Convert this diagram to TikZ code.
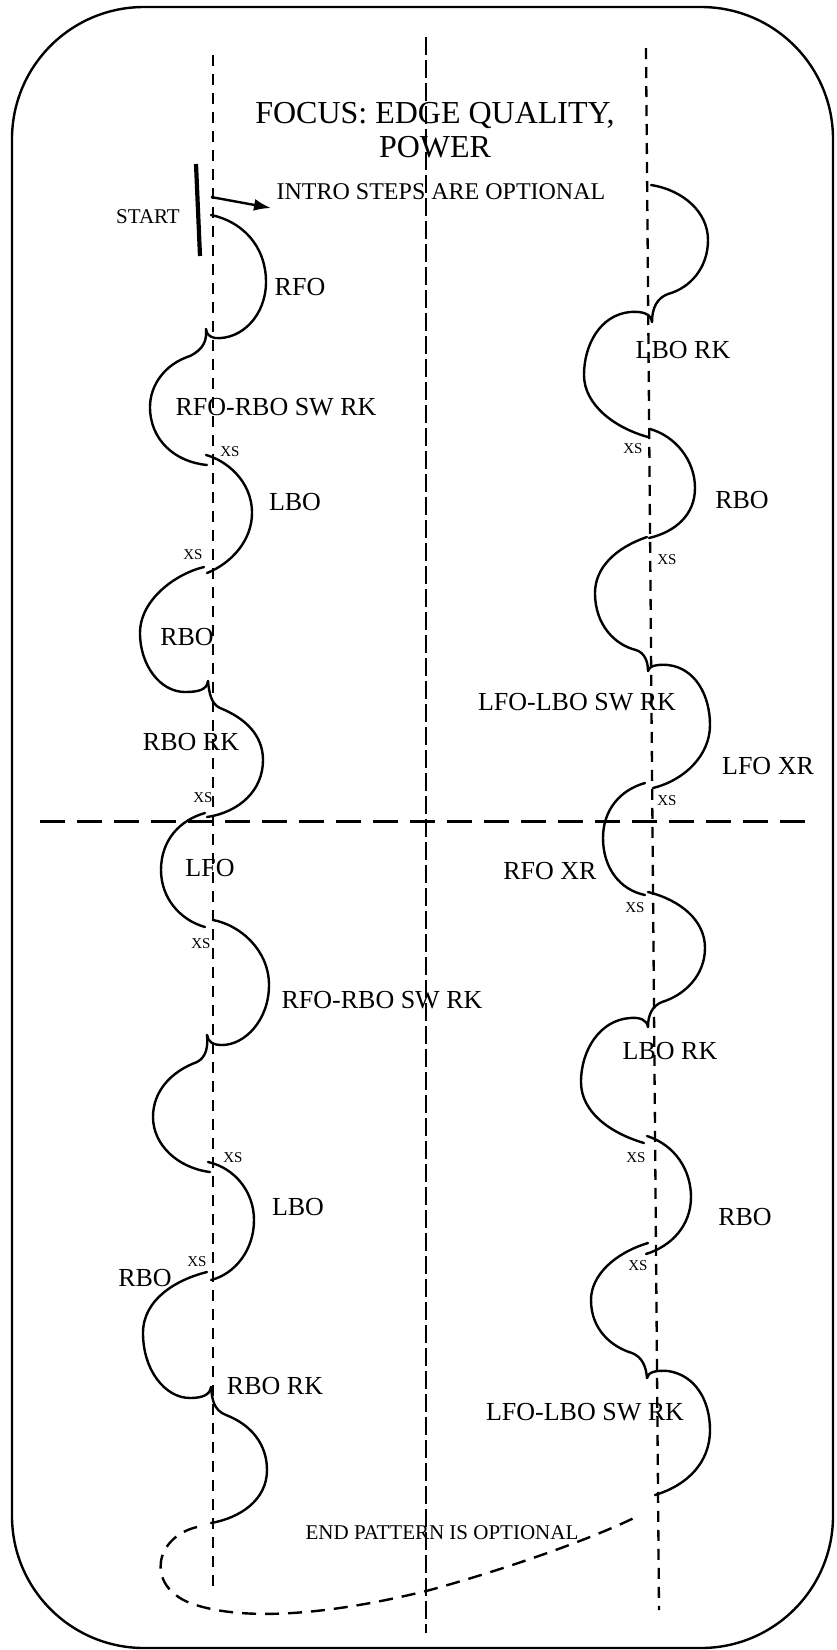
\documentclass[tikz,border=0pt]{standalone}
\usepackage{fontspec}
\setmainfont{Liberation Serif}
\usetikzlibrary{arrows.meta}

\tikzset{
  lobe/.style={line width=2.4pt, line cap=round},
  guide/.style={line width=2.3pt, dash pattern=on 11pt off 8pt},
  lbl/.style={inner sep=0pt, text depth=0pt, text height=17.2pt, font=\fontsize{26}{30}\selectfont},
  note/.style={inner sep=0pt, text depth=0pt, text height=13.9pt, font=\fontsize{21}{25}\selectfont},
  xs/.style={inner sep=0pt, text depth=0pt, text height=9.9pt, font=\fontsize{15}{18}\selectfont},
}

\begin{document}
\begin{tikzpicture}[x=1pt,y=-1pt,>={Latex[length=17pt,width=12pt]}]
\useasboundingbox (0,0) rectangle (836,1650);
\draw[line width=2.4pt, rounded corners=132pt] (12,7) rectangle (833,1648);

% guide lines
\draw[guide] (213,55) -- (213,1592);
\draw[line width=2.3pt, dash pattern=on 18pt off 5pt] (426,37) -- (426,1633);
\draw[guide] (646,48) -- (659,1610);
\draw[line width=3pt, dash pattern=on 25pt off 12pt] (40,821) -- (815,821);

\node[align=center, inner sep=0pt, font=\fontsize{32}{34}\selectfont] (title) at (435,130) {FOCUS: EDGE QUALITY,\\POWER};

% start
\draw[line width=4.2pt] (196,164) -- (200,256);
\node[note] (start) at (148,217) {START};
\coordinate (arrowbase) at (211,197);
\coordinate (arrowtip) at (271,208);
\draw[line width=2.4pt,->] (arrowbase) -- (arrowtip);
\node[inner sep=0pt, text depth=0pt, text height=15.8pt, font=\fontsize{24}{28}\selectfont] (intro) at (441,192) {INTRO STEPS ARE OPTIONAL};

% left column
\draw[lobe] (211,215) .. controls (241,221) and (266,245) .. (266,282)
  .. controls (266,315) and (242,340) .. (215,338)
  .. controls (210,337) and (206,334) .. (206,329);
\draw[lobe] (206,329) .. controls (207,340) and (204,349) .. (190,356)
  .. controls (165,364) and (150,385) .. (150,407)
  .. controls (150,440) and (175,462) .. (207,465);
\draw[lobe] (206,455) .. controls (225,460) and (252,480) .. (252,513)
  .. controls (252,540) and (232,563) .. (207,573);
\draw[lobe] (204,567) .. controls (175,574) and (140,600) .. (140,633)
  .. controls (140,665) and (160,692) .. (185,692)
  .. controls (198,692) and (207,690) .. (208,681);
\draw[lobe] (208,681) .. controls (209,692) and (211,704) .. (220,708)
  .. controls (245,718) and (263,735) .. (263,760)
  .. controls (263,790) and (240,812) .. (207,817);
\draw[lobe] (205,813) .. controls (180,820) and (161,840) .. (161,870)
  .. controls (161,898) and (180,920) .. (205,927);
\draw[lobe] (213,920) .. controls (240,925) and (269,950) .. (269,985)
  .. controls (269,1020) and (245,1045) .. (222,1045)
  .. controls (213,1045) and (208,1042) .. (207,1035);
\draw[lobe] (207,1035) .. controls (208,1045) and (207,1057) .. (197,1062)
  .. controls (170,1072) and (153,1092) .. (153,1117)
  .. controls (153,1145) and (178,1168) .. (210,1172);
\draw[lobe] (208,1162) .. controls (235,1168) and (254,1192) .. (254,1220)
  .. controls (254,1250) and (235,1274) .. (211,1280);
\draw[lobe] (207,1272) .. controls (175,1280) and (143,1300) .. (143,1333)
  .. controls (143,1370) and (165,1398) .. (190,1398)
  .. controls (202,1398) and (210,1395) .. (211,1387);
\draw[lobe] (211,1387) .. controls (212,1398) and (213,1410) .. (226,1415)
  .. controls (252,1425) and (267,1445) .. (267,1470)
  .. controls (267,1500) and (240,1518) .. (211,1523);

\node[lbl] (rfo) at (300,287) {RFO};
\node[lbl] (rfosw) at (276,407) {RFO-RBO SW RK};
\node[xs] (xsa) at (230,452) {XS};
\node[lbl] (lbo) at (295,502) {LBO};
\node[xs] (xsb) at (193,555) {XS};
\node[lbl] (rbo) at (187,637) {RBO};
\node[lbl] (rbork) at (191,742) {RBO RK};
\node[xs] (xsc) at (203,798) {XS};
\node[lbl] (lfo) at (210,868) {LFO};
\node[xs] (xsd) at (201,944) {XS};
\node[lbl] (rfoswb) at (382,1000) {RFO-RBO SW RK};
\node[xs] (xse) at (233,1158) {XS};
\node[lbl] (lbob) at (298,1207) {LBO};
\node[xs] (xsf) at (197,1262) {XS};
\node[lbl] (rbob) at (145,1278) {RBO};
\node[lbl] (rborkb) at (275,1386) {RBO RK};

% right column
\draw[lobe] (651,185) .. controls (683,190) and (708,212) .. (708,240)
  .. controls (708,268) and (690,288) .. (668,294)
  .. controls (657,298) and (652,308) .. (652,322);
\draw[lobe] (652,322) .. controls (651,314) and (643,311) .. (630,312)
  .. controls (600,315) and (584,345) .. (584,375)
  .. controls (584,405) and (615,428) .. (648,437);
\draw[lobe] (650,429) .. controls (675,436) and (695,460) .. (695,488)
  .. controls (695,515) and (675,532) .. (649,538);
\draw[lobe] (647,537) .. controls (615,548) and (595,568) .. (595,593)
  .. controls (595,625) and (615,645) .. (636,650)
  .. controls (645,653) and (648,662) .. (648,671);
\draw[lobe] (648,671) .. controls (649,666) and (657,664) .. (668,665)
  .. controls (695,668) and (710,695) .. (710,725)
  .. controls (710,755) and (685,780) .. (653,788);
\draw[lobe] (645,783) .. controls (620,790) and (603,810) .. (603,838)
  .. controls (603,868) and (620,890) .. (645,895);
\draw[lobe] (648,892) .. controls (680,900) and (705,920) .. (705,948)
  .. controls (705,975) and (685,995) .. (662,1002)
  .. controls (652,1006) and (648,1015) .. (648,1027);
\draw[lobe] (648,1027) .. controls (647,1020) and (640,1017) .. (630,1018)
  .. controls (600,1020) and (581,1050) .. (581,1082)
  .. controls (581,1112) and (610,1133) .. (644,1143);
\draw[lobe] (647,1136) .. controls (675,1145) and (691,1170) .. (691,1197)
  .. controls (691,1225) and (672,1246) .. (646,1254);
\draw[lobe] (648,1243) .. controls (615,1253) and (591,1275) .. (591,1300)
  .. controls (591,1330) and (612,1347) .. (632,1353)
  .. controls (642,1357) and (646,1366) .. (647,1378);
\draw[lobe] (647,1378) .. controls (648,1372) and (656,1370) .. (668,1371)
  .. controls (695,1375) and (710,1400) .. (710,1430)
  .. controls (710,1462) and (688,1485) .. (655,1495);

\node[lbl] (lbork) at (683,350) {LBO RK};
\node[xs] (xsg) at (633,449) {XS};
\node[lbl] (rboc) at (742,500) {RBO};
\node[xs] (xsh) at (667,560) {XS};
\node[lbl] (lfosw) at (577,702) {LFO-LBO SW RK};
\node[lbl] (lfoxr) at (768,766) {LFO XR};
\node[xs] (xsi) at (667,801) {XS};
\node[lbl] (rfoxr) at (550,871) {RFO XR};
\node[xs] (xsj) at (635,908) {XS};
\node[lbl] (lborkb) at (670,1051) {LBO RK};
\node[xs] (xsk) at (636,1158) {XS};
\node[lbl] (rbod) at (745,1217) {RBO};
\node[xs] (xsl) at (638,1266) {XS};
\node[lbl] (lfoswb) at (585,1412) {LFO-LBO SW RK};

% end
\draw[lobe, line cap=butt, dash pattern=on 14pt off 9pt] (197,1527) .. controls (155,1537) and (145,1585) .. (190,1603)
  .. controls (250,1625) and (350,1610) .. (430,1590)
  .. controls (520,1565) and (600,1535) .. (638,1516);
\node[note] (endnote) at (442,1533) {END PATTERN IS OPTIONAL};
\end{tikzpicture}
\end{document}
